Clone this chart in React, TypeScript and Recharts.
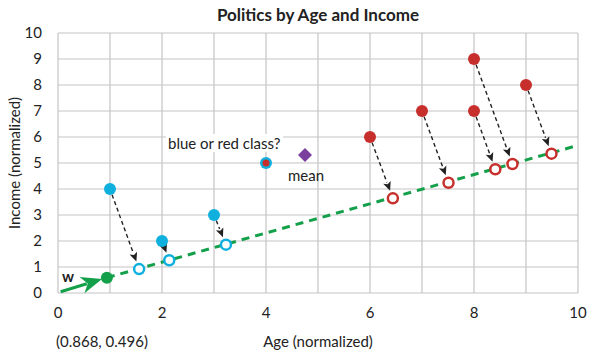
import {
  ScatterChart,
  Scatter,
  XAxis,
  YAxis,
  CartesianGrid,
  ReferenceLine,
} from "recharts";

const xTicks = [0, 1, 2, 3, 4, 5, 6, 7, 8, 9, 10];
const yTicks = [0, 1, 2, 3, 4, 5, 6, 7, 8, 9, 10];

// blue class
const blueX = [1, 2, 3];
const blueY = [4, 2, 3];
const blueProjX = [1.56, 2.14, 3.23];
const blueProjY = [0.92, 1.26, 1.86];

// red class
const redX = [6, 7, 8, 8, 9];
const redY = [6, 7, 7, 9, 8];
const redProjX = [6.44, 7.51, 8.41, 8.74, 9.49];
const redProjY = [3.64, 4.24, 4.76, 4.96, 5.36];

// unknown point, mean, w
const testPoint = { x: 4, y: 5 };
const meanPoint = { x: 4.75, y: 5.31 };
const wStart = { x: 0.05, y: 0.05 };
const wPoint = { x: 0.94, y: 0.59 };
const lineEnd = { x: 9.95, y: 5.65 };

const BLUE = "#0fb0de";
const RED = "#c62f2b";
const GREEN = "#14a04a";
const PURPLE = "#7b3f9e";
const FONT = "Lato, 'Open Sans', sans-serif";

const toPts = (xs: number[], ys: number[]) => xs.map((x, i) => ({ x, y: ys[i] }));

const bluePts = toPts(blueX, blueY);
const blueProj = toPts(blueProjX, blueProjY);
const redPts = toPts(redX, redY);
const redProj = toPts(redProjX, redProjY);

const arrows = [
  ...bluePts.map((p, i) => [p, blueProj[i]]),
  ...redPts.map((p, i) => [p, redProj[i]]),
];

const DashArrow = (p: any) => {
  const { x1, y1, x2, y2 } = p;
  const dx = x2 - x1;
  const dy = y2 - y1;
  const len = Math.sqrt(dx * dx + dy * dy);
  const ux = dx / len;
  const uy = dy / len;
  const tipX = x2 - ux * 8;
  const tipY = y2 - uy * 8;
  const head = 9;
  const bx = tipX - ux * head;
  const by = tipY - uy * head;
  const w = 4;
  return (
    <g>
      <line x1={x1 + ux * 6} y1={y1 + uy * 6} x2={bx} y2={by} stroke="#222" strokeWidth={1.4} strokeDasharray="4 3" />
      <polygon
        points={`${tipX},${tipY} ${bx - uy * w},${by + ux * w} ${bx + ux * 2},${by + uy * 2} ${bx + uy * w},${by - ux * w}`}
        fill="#222"
      />
    </g>
  );
};

const WArrow = (p: any) => {
  const { x1, y1, x2, y2 } = p;
  const dx = x2 - x1;
  const dy = y2 - y1;
  const len = Math.sqrt(dx * dx + dy * dy);
  const ux = dx / len;
  const uy = dy / len;
  const tipX = x2 - ux * 5;
  const tipY = y2 - uy * 5;
  const head = 21;
  const bx = tipX - ux * head;
  const by = tipY - uy * head;
  const w = 8.5;
  return (
    <g>
      <line x1={x1} y1={y1} x2={bx + ux * 5} y2={by + uy * 5} stroke={GREEN} strokeWidth={3} />
      <polygon
        points={`${tipX},${tipY} ${bx - uy * w},${by + ux * w} ${bx + ux * 6},${by + uy * 6} ${bx + uy * w},${by - ux * w}`}
        fill={GREEN}
      />
    </g>
  );
};

const dot = (color: string, r = 6) => (p: any) => <circle cx={p.cx} cy={p.cy} r={r} fill={color} />;
const ring = (color: string) => (p: any) => (
  <circle cx={p.cx} cy={p.cy} r={5} fill="#fff" stroke={color} strokeWidth={2.5} />
);
const testShape = (p: any) => (
  <g>
    <circle cx={p.cx} cy={p.cy} r={6} fill={BLUE} />
    <circle cx={p.cx} cy={p.cy} r={3.5} fill={RED} />
  </g>
);
const diamondShape = (p: any) => (
  <polygon
    points={`${p.cx},${p.cy - 7} ${p.cx + 7},${p.cy} ${p.cx},${p.cy + 7} ${p.cx - 7},${p.cy}`}
    fill={PURPLE}
  />
);

const tickStyle = { fill: "#222", fontSize: 15, fontFamily: FONT };

export default function App() {
  return (
    <div style={{ position: "absolute", left: 0, top: 0, width: 600, height: 353, background: "#fff", fontFamily: FONT }}>
      <div style={{ position: "absolute", left: 118, width: 400, top: 4, textAlign: "center", fontSize: 17, fontWeight: "bold", color: "#222" }}>
        Politics by Age and Income
      </div>
      <ScatterChart width={600} height={353} margin={{ top: 33, right: 22, bottom: 0, left: 18 }}>
        <CartesianGrid stroke="#c4c4c4" strokeWidth={1.2} />
        <XAxis
          type="number"
          dataKey="x"
          domain={[0, 10]}
          ticks={xTicks}
          tickFormatter={(v: number) => (v % 2 === 0 ? String(v) : "")}
          axisLine={false}
          tickLine={false}
          tick={tickStyle}
          tickMargin={8}
          height={60}
          label={{ value: "Age (normalized)", position: "insideBottom", offset: 6, fill: "#222", fontSize: 15, fontFamily: FONT }}
        />
        <YAxis
          type="number"
          dataKey="y"
          domain={[0, 10]}
          ticks={yTicks}
          axisLine={false}
          tickLine={false}
          tick={tickStyle}
          tickMargin={10}
          width={40}
          label={{ value: "Income (normalized)", angle: -90, position: "insideLeft", offset: -3, fill: "#222", fontSize: 15, fontFamily: FONT, style: { textAnchor: "middle" } }}
        />
        <ReferenceLine
          segment={[wPoint, lineEnd]}
          stroke={GREEN}
          strokeWidth={3}
          strokeDasharray="8 6"
        />
        <ReferenceLine segment={[wStart, wPoint]} shape={WArrow} />
        {arrows.map((a, i) => (
          <ReferenceLine key={i} segment={a} shape={DashArrow} />
        ))}
        <Scatter data={bluePts} shape={dot(BLUE)} isAnimationActive={false} />
        <Scatter data={redPts} shape={dot(RED)} isAnimationActive={false} />
        <Scatter data={blueProj} shape={ring(BLUE)} isAnimationActive={false} />
        <Scatter data={redProj} shape={ring(RED)} isAnimationActive={false} />
        <Scatter data={[wPoint]} shape={dot(GREEN)} isAnimationActive={false} />
        <Scatter data={[testPoint]} shape={testShape} isAnimationActive={false} />
        <Scatter data={[meanPoint]} shape={diamondShape} isAnimationActive={false} />
      </ScatterChart>
      <div style={{ position: "absolute", left: 166, top: 134, fontSize: 15, color: "#222", background: "#fff", padding: "0 2px" }}>
        blue or red class?
      </div>
      <div style={{ position: "absolute", left: 288, top: 166, fontSize: 15, color: "#222" }}>mean</div>
      <div style={{ position: "absolute", left: 62, top: 267, fontSize: 15, fontWeight: "bold", color: "#222" }}>w</div>
      <div style={{ position: "absolute", left: 56, top: 332, fontSize: 15, color: "#222" }}>(0.868, 0.496)</div>
    </div>
  );
}
